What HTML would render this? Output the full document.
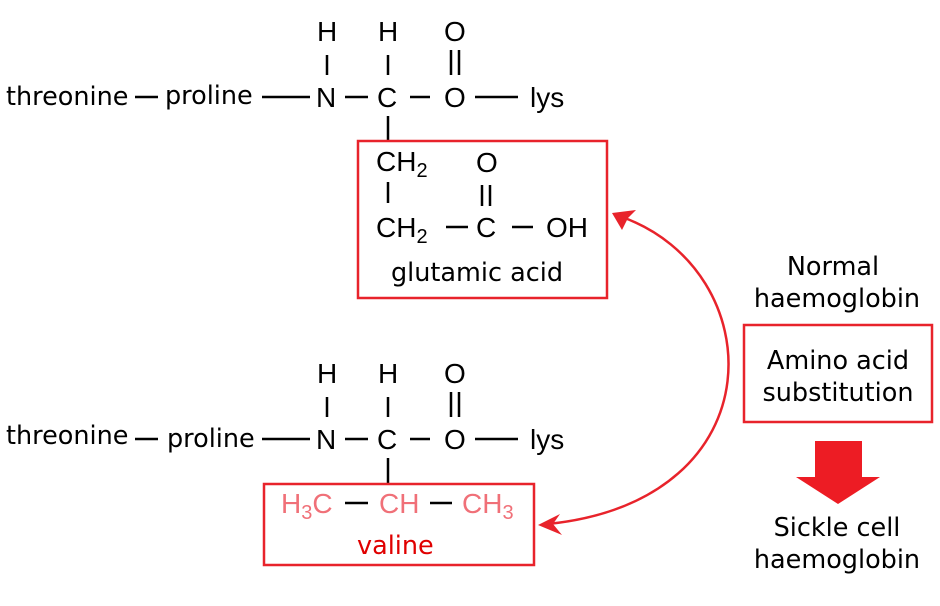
<!DOCTYPE html>
<html><head><meta charset="utf-8"><style>
html,body{margin:0;padding:0;background:#fff;}
svg{display:block}
.d{font-family:"DejaVu Sans",sans-serif;font-size:25.5px;fill:#000}
.c{font-family:"Liberation Sans",Arial,sans-serif;font-size:28px;fill:#000}
.s{font-size:20px}
.p{font-family:"Liberation Sans",Arial,sans-serif;font-size:28px;fill:#f07078}
</style></head><body>
<svg width="940" height="606" viewBox="0 0 940 606" xmlns="http://www.w3.org/2000/svg">
<g stroke="#000" stroke-width="2.5" fill="none">
<line x1="135" y1="97" x2="158" y2="97"/>
<line x1="262" y1="97" x2="310" y2="97"/>
<line x1="345" y1="97" x2="368" y2="97"/>
<line x1="410" y1="97" x2="430" y2="97"/>
<line x1="475" y1="97" x2="518" y2="97"/>
<line x1="327" y1="55" x2="327" y2="75"/>
<line x1="388" y1="55" x2="388" y2="75"/>
<line x1="451" y1="50" x2="451" y2="75"/>
<line x1="459" y1="50" x2="459" y2="75"/>
<line x1="388" y1="116" x2="388" y2="141"/>
<line x1="388" y1="182" x2="388" y2="203"/>
<line x1="482" y1="185" x2="482" y2="206"/>
<line x1="490" y1="185" x2="490" y2="206"/>
<line x1="446" y1="227" x2="468" y2="227"/>
<line x1="512" y1="227" x2="533" y2="227"/>
<line x1="135" y1="439" x2="158" y2="439"/>
<line x1="262" y1="439" x2="310" y2="439"/>
<line x1="345" y1="439" x2="368" y2="439"/>
<line x1="410" y1="439" x2="430" y2="439"/>
<line x1="475" y1="439" x2="518" y2="439"/>
<line x1="327" y1="397" x2="327" y2="417"/>
<line x1="388" y1="397" x2="388" y2="417"/>
<line x1="451" y1="392" x2="451" y2="417"/>
<line x1="459" y1="392" x2="459" y2="417"/>
<line x1="388" y1="458" x2="388" y2="484"/>
<line x1="345" y1="503" x2="368" y2="503"/>
<line x1="430" y1="503" x2="452" y2="503"/>
</g>
<g fill="none" stroke="#e8232b" stroke-width="2.5">
<rect x="358" y="141" width="249" height="157"/>
<rect x="264" y="484" width="270" height="81"/>
<rect x="744" y="325" width="188" height="97"/>
<path d="M622 217 C 770 270, 780 500, 548 524"/>
</g>
<polygon points="612,213 636,210 628,218 622,230" fill="#e8232b"/>
<polygon points="538,525 560,514 553,524 562,535" fill="#e8232b"/>
<polygon points="815,441 862,441 862,477 880,477 838,504 796,477 815,477" fill="#ed1c24"/>
<text class="d" x="6" y="105">threonine</text>
<text class="d" x="165" y="104">proline</text>
<text class="c" x="316" y="107">N</text>
<text class="c" x="377" y="107">C</text>
<text class="c" x="444" y="107">O</text>
<text class="c" x="530" y="107">lys</text>
<text class="c" x="317" y="41">H</text>
<text class="c" x="378" y="41">H</text>
<text class="c" x="444" y="41">O</text>
<text class="c" x="376" y="171">CH<tspan class="s" dy="6">2</tspan></text>
<text class="c" x="476" y="172">O</text>
<text class="c" x="376" y="237">CH<tspan class="s" dy="6">2</tspan></text>
<text class="c" x="476" y="237">C</text>
<text class="c" x="546" y="237">OH</text>
<text class="d" x="391" y="281">glutamic acid</text>
<text class="d" x="6" y="444">threonine</text>
<text class="d" x="167" y="447">proline</text>
<text class="c" x="316" y="449">N</text>
<text class="c" x="377" y="449">C</text>
<text class="c" x="444" y="449">O</text>
<text class="c" x="530" y="449">lys</text>
<text class="c" x="317" y="383">H</text>
<text class="c" x="378" y="383">H</text>
<text class="c" x="444" y="383">O</text>
<text class="p" x="281" y="513">H<tspan class="s" dy="6">3</tspan><tspan dy="-6">C</tspan></text>
<text class="p" x="379" y="513">CH</text>
<text class="p" x="462" y="513">CH<tspan class="s" dy="6">3</tspan></text>
<text class="d" x="357" y="554" style="fill:#e00000">valine</text>
<g class="d" text-anchor="middle">
<text x="833" y="275">Normal</text>
<text x="837" y="307">haemoglobin</text>
<text x="838" y="369">Amino acid</text>
<text x="838" y="401">substitution</text>
<text x="837" y="536">Sickle cell</text>
<text x="837" y="568">haemoglobin</text>
</g>
</svg>
</body></html>
